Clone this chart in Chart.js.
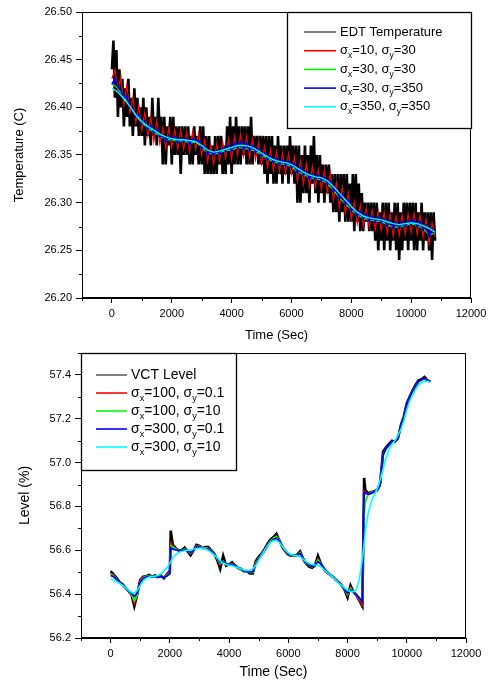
<!DOCTYPE html>
<html>
<head>
<meta charset="utf-8">
<title>EDT Temperature / VCT Level</title>
<script src="https://cdn.jsdelivr.net/npm/chart.js@4.4.1/dist/chart.umd.min.js"></script>
<style>
  body { margin: 0; background: #fff; }
  canvas { position: absolute; left: 0; }
  #tempChart { top: 0; }
  #levelChart { top: 345px; }
</style>
</head>
<body>
<canvas id="tempChart" width="489" height="345"></canvas>
<canvas id="levelChart" width="489" height="339"></canvas>
<script>
// ---- axes / legend ----
const timeTicks = [0, 2000, 4000, 6000, 8000, 10000, 12000];
const timeMinorTicks = [-1000, 1000, 3000, 5000, 7000, 9000, 11000];
const tempTicks = [26.20, 26.25, 26.30, 26.35, 26.40, 26.45, 26.50];
const tempMinorTicks = [26.225, 26.275, 26.325, 26.375, 26.425, 26.475];
const levelTicks = [56.2, 56.4, 56.6, 56.8, 57.0, 57.2, 57.4];
const levelMinorTicks = [56.3, 56.5, 56.7, 56.9, 57.1, 57.3, 57.5];

const tempLabels = ['EDT Temperature', 'σ_x=10, σ_y=30', 'σ_x=30, σ_y=30', 'σ_x=30, σ_y=350', 'σ_x=350, σ_y=350'];
const levelLabels = ['VCT Level', 'σ_x=100, σ_y=0.1', 'σ_x=100, σ_y=10', 'σ_x=300, σ_y=0.1', 'σ_x=300, σ_y=10'];
const seriesColors = ['#000000', '#ff0000', '#00ff00', '#0000ff', '#00ffff'];

// ---- top chart: EDT temperature ----
// raw readings every 50 s, in 0.01 C steps above 26.00
const edtStep = 50;
const edtHundredths = [
  44,47,41,46,39,44,40,43,38,42,  39,43,38,41,37,42,38,41,37,40,
  37,41,36,40,37,39,36,41,37,39,  36,41,37,39,34,39,34,38,36,39,
  34,39,35,38,35,38,33,38,35,38,  35,38,34,37,34,38,35,37,34,38,
  34,38,33,37,33,37,33,36,33,37,  33,37,34,37,33,36,33,38,34,39,
  33,38,34,39,34,38,34,38,35,38,  34,38,34,39,34,37,35,37,34,37,
  34,37,33,37,32,37,33,37,32,36,  32,37,33,36,32,36,33,36,32,37,
  33,36,32,36,30,36,30,35,31,36,  31,35,30,36,32,37,31,35,30,35,
  31,34,30,34,31,34,30,33,29,33,  29,33,28,33,29,33,28,33,28,32,
  28,33,27,33,28,32,27,31,27,30,  28,30,27,30,27,30,26,30,25,29,
  26,30,25,30,26,30,25,29,26,30,  25,30,24,29,25,30,26,30,25,30,
  26,30,25,30,25,29,26,30,25,29,  26,29,25,29,24,29,26
];

// filtered outputs every 100 s
const filtStep = 100;
const tempS10_30 = [
  26.430,26.440,26.418,26.432,26.402,26.424,26.394,26.410,26.384,26.402,
  26.376,26.395,26.370,26.390,26.364,26.386,26.362,26.378,26.357,26.379,
  26.358,26.377,26.356,26.376,26.356,26.374,26.354,26.375,26.356,26.373,
  26.350,26.366,26.343,26.361,26.341,26.362,26.344,26.364,26.347,26.367,
  26.346,26.370,26.350,26.372,26.349,26.370,26.347,26.367,26.345,26.364,
  26.341,26.359,26.337,26.356,26.334,26.354,26.333,26.352,26.331,26.351,
  26.330,26.348,26.323,26.344,26.320,26.341,26.317,26.338,26.316,26.335,
  26.314,26.334,26.311,26.331,26.303,26.321,26.295,26.316,26.289,26.310,
  26.283,26.301,26.278,26.298,26.275,26.294,26.274,26.292,26.272,26.291,
  26.271,26.290,26.268,26.288,26.265,26.286,26.266,26.287,26.267,26.288,
  26.269,26.289,26.267,26.287,26.264,26.283,26.257,26.279,26.264
];
const tempS30_350 = [
  26.424,26.430,26.421,26.418,26.410,26.412,26.400,26.398,26.390,26.392,
  26.383,26.385,26.377,26.381,26.373,26.377,26.369,26.370,26.364,26.370,
  26.366,26.369,26.363,26.368,26.364,26.367,26.361,26.367,26.364,26.365,
  26.357,26.359,26.351,26.354,26.350,26.355,26.351,26.357,26.354,26.360,
  26.354,26.363,26.357,26.364,26.356,26.363,26.355,26.360,26.353,26.357,
  26.349,26.352,26.345,26.349,26.342,26.347,26.340,26.345,26.339,26.344,
  26.337,26.341,26.331,26.337,26.329,26.333,26.325,26.330,26.324,26.329,
  26.323,26.327,26.319,26.323,26.312,26.314,26.304,26.309,26.298,26.303,
  26.292,26.294,26.286,26.291,26.283,26.288,26.281,26.286,26.280,26.285,
  26.279,26.283,26.276,26.281,26.273,26.279,26.274,26.280,26.275,26.281,
  26.277,26.282,26.275,26.280,26.272,26.276,26.265,26.272,26.268
];

// smoother outputs every 200 s
const smoothStep = 200;
const tempS30_30 = [
  26.425,26.420,26.411,26.401,26.391,26.384,26.378,26.374,26.370,26.366,
  26.366,26.364,26.365,26.362,26.364,26.358,26.352,26.351,26.352,26.355,
  26.355,26.358,26.357,26.356,26.354,26.350,26.346,26.343,26.341,26.340,
  26.338,26.332,26.330,26.326,26.325,26.324,26.320,26.313,26.305,26.299,
  26.293,26.287,26.284,26.282,26.281,26.280,26.277,26.274,26.275,26.276,
  26.278,26.276,26.273,26.266,26.268
];
const tempS350_350 = [
  26.420,26.416,26.409,26.401,26.392,26.385,26.380,26.376,26.372,26.369,
  26.367,26.366,26.366,26.365,26.364,26.360,26.355,26.353,26.354,26.356,
  26.358,26.360,26.360,26.359,26.356,26.352,26.348,26.345,26.343,26.342,
  26.340,26.336,26.332,26.329,26.327,26.326,26.323,26.317,26.310,26.303,
  26.296,26.290,26.286,26.284,26.283,26.282,26.280,26.278,26.277,26.278,
  26.279,26.278,26.276,26.273,26.269
];

// ---- bottom chart: VCT level ----
// sampled every 100 s, with extra samples right after the two step changes
function secondsRange(from, to, step) {
  const out = [];
  for (let t = from; t <= to; t += step) out.push(t);
  return out;
}
const levelTimes = [...secondsRange(0, 2000, 100), 2030, ...secondsRange(2100, 8500, 100), 8560, ...secondsRange(8600, 10800, 100)];

const vctLevel = [
  56.505,56.49,56.475,56.455,56.445,56.43,56.415,56.40,56.345,56.40,
  56.465,56.48,56.482,56.488,56.48,56.485,56.478,56.485,56.472,56.49,
  56.505,
  56.69,
  56.625,56.61,56.598,56.60,56.612,56.595,56.578,56.60,56.625,
  56.62,56.61,56.615,56.615,56.60,56.585,56.555,56.515,56.575,56.53,
  56.535,56.545,56.53,56.52,56.515,56.505,56.505,56.495,56.495,56.55,
  56.57,56.585,56.605,56.63,56.65,56.66,56.675,56.645,56.615,56.595,
  56.58,56.575,56.575,56.58,56.595,56.56,56.54,56.525,56.52,56.53,
  56.575,56.54,56.515,56.50,56.49,56.48,56.465,56.455,56.44,56.42,
  56.385,56.44,56.41,56.395,56.37,56.345,
  56.93,
  56.875,56.86,56.865,56.87,56.875,56.905,57.05,57.07,57.085,57.10,57.095,57.11,
  57.17,57.21,57.27,57.30,57.33,57.355,57.375,57.38,57.39,57.375,57.37
];
const levelS100_01 = [
  56.495,56.485,56.47,56.455,56.445,56.43,56.415,56.40,56.36,56.40,
  56.465,56.478,56.48,56.485,56.48,56.483,56.478,56.482,56.475,56.488,
  56.50,
  56.632,
  56.618,56.607,56.60,56.60,56.608,56.596,56.585,56.60,56.62,
  56.618,56.61,56.612,56.61,56.598,56.583,56.56,56.535,56.55,56.535,
  56.535,56.54,56.53,56.52,56.513,56.507,56.505,56.50,56.50,56.545,
  56.565,56.582,56.60,56.625,56.645,56.655,56.665,56.645,56.615,56.595,
  56.582,56.577,56.575,56.578,56.59,56.562,56.542,56.53,56.525,56.532,
  56.56,56.54,56.517,56.502,56.49,56.48,56.467,56.455,56.44,56.422,
  56.395,56.43,56.408,56.395,56.372,56.352,
  56.87,
  56.865,56.858,56.862,56.868,56.875,56.90,57.04,57.065,57.08,57.095,57.095,57.11,
  57.165,57.205,57.265,57.295,57.325,57.35,57.37,57.378,57.385,57.375,57.37
];
const levelS100_10 = [
  56.49,56.484,56.47,56.455,56.445,56.43,56.416,56.402,56.37,56.395,
  56.455,56.475,56.48,56.484,56.48,56.482,56.478,56.481,56.476,56.485,
  56.497,
  56.62,
  56.615,56.606,56.60,56.60,56.606,56.596,56.588,56.60,56.618,
  56.617,56.61,56.61,56.608,56.597,56.583,56.562,56.54,56.55,56.537,
  56.535,56.538,56.53,56.52,56.513,56.507,56.504,56.50,56.50,56.54,
  56.562,56.58,56.60,56.622,56.643,56.655,56.662,56.645,56.617,56.597,
  56.583,56.577,56.575,56.577,56.588,56.563,56.543,56.531,56.526,56.532,
  56.555,56.54,56.518,56.503,56.49,56.48,56.467,56.455,56.44,56.423,
  56.40,56.425,56.41,56.397,56.38,56.37,
  56.76,
  56.82,56.855,56.862,56.868,56.875,56.895,57.03,57.06,57.078,57.093,57.095,57.11,
  57.16,57.20,57.26,57.292,57.322,57.35,57.368,57.376,57.382,57.375,57.37
];
const levelS300_01 = [
  56.485,56.48,56.468,56.455,56.445,56.43,56.417,56.405,56.39,56.405,
  56.455,56.472,56.478,56.482,56.479,56.481,56.478,56.48,56.477,56.483,
  56.493,
  56.612,
  56.605,56.602,56.60,56.60,56.603,56.597,56.59,56.60,56.615,
  56.615,56.61,56.608,56.605,56.595,56.582,56.563,56.545,56.548,56.538,
  56.535,56.536,56.53,56.52,56.513,56.507,56.504,56.502,56.502,56.535,
  56.56,56.578,56.598,56.62,56.64,56.65,56.655,56.642,56.617,56.598,
  56.584,56.578,56.576,56.577,56.585,56.565,56.545,56.532,56.527,56.532,
  56.548,56.538,56.518,56.503,56.49,56.48,56.467,56.455,56.44,56.424,
  56.405,56.418,56.41,56.398,56.383,56.365,
  56.865,
  56.86,56.855,56.86,56.866,56.874,56.895,57.035,57.065,57.08,57.095,57.095,57.11,
  57.165,57.205,57.265,57.295,57.325,57.35,57.37,57.378,57.385,57.375,57.37
];
const levelS300_10 = [
  56.47,56.465,56.458,56.45,56.44,56.43,56.418,56.408,56.405,56.418,
  56.44,56.46,56.472,56.478,56.48,56.482,56.485,56.493,56.505,56.52,
  56.54,
  56.548,
  56.565,56.58,56.59,56.595,56.598,56.60,56.602,56.605,56.608,
  56.61,56.61,56.607,56.60,56.59,56.578,56.565,56.552,56.542,56.535,
  56.532,56.53,56.525,56.52,56.515,56.51,56.508,56.508,56.515,56.53,
  56.555,56.578,56.60,56.62,56.637,56.645,56.645,56.635,56.617,56.60,
  56.588,56.58,56.577,56.575,56.57,56.56,56.548,56.54,56.535,56.533,
  56.532,56.525,56.512,56.50,56.49,56.478,56.465,56.452,56.44,56.428,
  56.418,56.412,56.41,56.42,56.47,56.56,
  56.63,
  56.69,56.77,56.82,56.85,56.88,56.92,56.97,57.02,57.06,57.085,57.10,57.125,
  57.15,57.19,57.24,57.28,57.31,57.335,57.355,57.365,57.37,57.37,57.368
];

// ---------------------------------------------------------------
const FONT = '"Liberation Sans", Arial, sans-serif';
Chart.defaults.font.family = FONT;
Chart.defaults.color = '#000';

const stepped = (vals, step) => vals.map((v, i) => ({ x: i * step, y: v }));
const timed = (times, vals) => vals.map((v, i) => ({ x: times[i], y: v }));

function line(label, color, data, width, order) {
  return { label, data, borderColor: color, backgroundColor: color, borderWidth: width,
           pointRadius: 0, tension: 0, fill: false, order };
}

// legend text with "_x" style subscripts
function drawRich(ctx, text, x, y, size) {
  const parts = text.split(/(_.)/);
  for (const p of parts) {
    if (!p) continue;
    if (p[0] === '_') {
      ctx.font = (size * 0.65) + 'px ' + FONT;
      ctx.fillText(p[1], x, y + size * 0.38);
      x += ctx.measureText(p[1]).width;
    } else {
      ctx.font = size + 'px ' + FONT;
      ctx.fillText(p, x, y);
      x += ctx.measureText(p).width;
    }
  }
}

// frame, minor ticks and boxed legend
const plotFrame = {
  id: 'plotFrame',
  afterDraw(chart, args, opts) {
    const { ctx, chartArea: a, scales: { x, y } } = chart;
    ctx.save();
    ctx.strokeStyle = '#000';
    ctx.lineWidth = 1;
    ctx.strokeRect(Math.round(a.left) + 0.5, Math.round(a.top) + 0.5,
                   Math.round(a.right - a.left) - 1, Math.round(a.bottom - a.top) - 1);

    ctx.beginPath();
    opts.xMinor.forEach(v => {
      const px = Math.round(x.getPixelForValue(v)) + 0.5;
      ctx.moveTo(px, a.bottom); ctx.lineTo(px, a.bottom + 3);
    });
    opts.yMinor.forEach(v => {
      const py = Math.round(y.getPixelForValue(v)) + 0.5;
      ctx.moveTo(a.left, py); ctx.lineTo(a.left - 3, py);
    });
    ctx.stroke();

    const L = opts.legend;
    const bx = L.align === 'right' ? a.right - L.w : a.left;
    const by = a.top;
    ctx.fillStyle = '#fff';
    ctx.fillRect(bx, by, L.w, L.h);
    ctx.lineWidth = 1.3;
    ctx.strokeRect(Math.round(bx) + 0.5, Math.round(by) + 0.5, L.w, L.h);
    ctx.textBaseline = 'middle';
    ctx.textAlign = 'left';
    L.labels.forEach((text, i) => {
      const ry = by + L.first + i * L.gap;
      ctx.strokeStyle = L.colors[i];
      ctx.lineWidth = i === 0 ? 1 : 1.6;
      ctx.beginPath();
      ctx.moveTo(bx + L.sample[0], ry); ctx.lineTo(bx + L.sample[1], ry);
      ctx.stroke();
      ctx.fillStyle = '#000';
      drawRich(ctx, text, bx + L.textX, ry, L.size);
    });
    ctx.restore();
  }
};

function scalesFor(cfg) {
  return {
    x: {
      type: 'linear', min: -1000, max: 12000,
      afterBuildTicks: s => { s.ticks = timeTicks.map(v => ({ value: v })); },
      afterFit: s => { s.height = cfg.xHeight; s.paddingLeft = s.paddingRight = 0; s.paddingTop = s.paddingBottom = 0; },
      ticks: { font: { size: 11 }, padding: 4, maxRotation: 0, autoSkip: false, callback: v => String(v) },
      grid: { drawOnChartArea: false, tickLength: 5, tickColor: '#000', tickWidth: 1 },
      border: { color: '#000', width: 1 },
      title: { display: true, text: 'Time (Sec)', font: { size: cfg.titleSize }, padding: { top: 0, bottom: cfg.xTitlePad } }
    },
    y: {
      type: 'linear', min: cfg.yMin, max: cfg.yMax,
      afterBuildTicks: s => { s.ticks = cfg.yTicks.map(v => ({ value: v })); },
      afterFit: s => { s.width = cfg.yWidth; s.paddingTop = s.paddingBottom = 0; },
      ticks: { font: { size: 11 }, padding: 4, autoSkip: false, callback: v => v.toFixed(cfg.decimals) },
      grid: { drawOnChartArea: false, tickLength: 6, tickColor: '#000', tickWidth: 1 },
      border: { color: '#000', width: 1 },
      title: { display: true, text: cfg.yTitle, font: { size: cfg.titleSize }, padding: { top: cfg.yTitlePad, bottom: 0 } }
    }
  };
}

new Chart(document.getElementById('tempChart'), {
  type: 'line',
  data: {
    datasets: [
      line(tempLabels[0], seriesColors[0], stepped(edtHundredths.map(h => 26 + h / 100), edtStep), 2.6, 5),
      line(tempLabels[1], seriesColors[1], stepped(tempS10_30, filtStep), 1.2, 4),
      line(tempLabels[2], seriesColors[2], stepped(tempS30_30, smoothStep), 1.3, 3),
      line(tempLabels[3], seriesColors[3], stepped(tempS30_350, filtStep), 1.8, 2),
      line(tempLabels[4], seriesColors[4], stepped(tempS350_350, smoothStep), 1.4, 1)
    ]
  },
  options: {
    responsive: false,
    animation: false,
    layout: { padding: { left: 0, right: 18, top: 12, bottom: 0 } },
    scales: scalesFor({ xHeight: 47, yWidth: 82, yMin: 26.2, yMax: 26.5, yTicks: tempTicks, decimals: 2,
                        yTitle: 'Temperature (C)', titleSize: 13, xTitlePad: 2, yTitlePad: 12 }),
    plugins: {
      legend: { display: false },
      tooltip: { enabled: false },
      plotFrame: {
        xMinor: timeMinorTicks, yMinor: tempMinorTicks,
        legend: { labels: tempLabels, colors: seriesColors, align: 'right', w: 184, h: 116,
                  first: 20, gap: 18.7, sample: [17, 49], textX: 53, size: 13 }
      }
    }
  },
  plugins: [plotFrame]
});

new Chart(document.getElementById('levelChart'), {
  type: 'line',
  data: {
    datasets: [
      line(levelLabels[0], seriesColors[0], timed(levelTimes, vctLevel), 2.6, 5),
      line(levelLabels[1], seriesColors[1], timed(levelTimes, levelS100_01), 1.8, 4),
      line(levelLabels[2], seriesColors[2], timed(levelTimes, levelS100_10), 1.8, 3),
      line(levelLabels[3], seriesColors[3], timed(levelTimes, levelS300_01), 1.8, 2),
      line(levelLabels[4], seriesColors[4], timed(levelTimes, levelS300_10), 1.6, 1)
    ]
  },
  options: {
    responsive: false,
    animation: false,
    layout: { padding: { left: 0, right: 23, top: 8, bottom: 0 } },
    scales: scalesFor({ xHeight: 46, yWidth: 81, yMin: 56.2, yMax: 57.5, yTicks: levelTicks, decimals: 1,
                        yTitle: 'Level (%)', titleSize: 14, xTitlePad: 3, yTitlePad: 17 }),
    plugins: {
      legend: { display: false },
      tooltip: { enabled: false },
      plotFrame: {
        xMinor: timeMinorTicks, yMinor: levelMinorTicks,
        legend: { labels: levelLabels, colors: seriesColors, align: 'left', w: 155, h: 117,
                  first: 22, gap: 18, sample: [15, 46], textX: 50, size: 14 }
      }
    }
  },
  plugins: [plotFrame]
});
</script>
</body>
</html>
